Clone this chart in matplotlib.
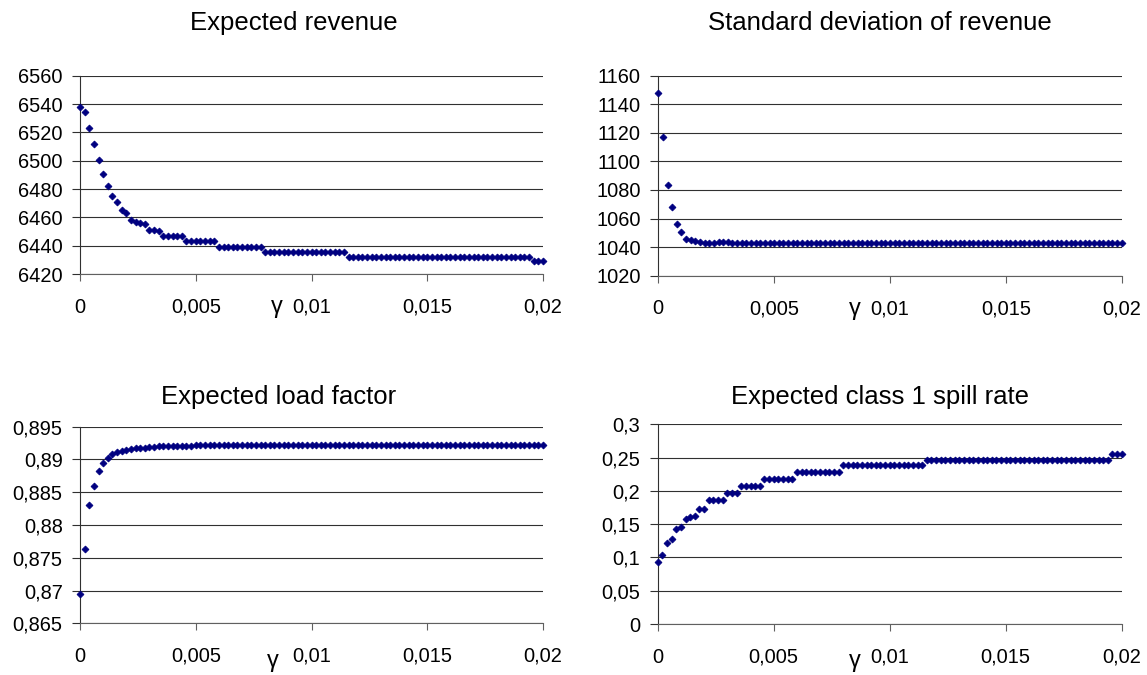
import matplotlib.pyplot as plt
from matplotlib.ticker import FuncFormatter

plt.rcParams['font.family'] = ['Liberation Sans', 'DejaVu Sans']

# gamma grid (x values of every point)
gamma = [0.0000, 0.0002, 0.0004, 0.0006, 0.0008, 0.0010, 0.0012, 0.0014, 0.0016, 0.0018,
         0.0020, 0.0022, 0.0024, 0.0026, 0.0028, 0.0030, 0.0032, 0.0034, 0.0036, 0.0038,
         0.0040, 0.0042, 0.0044, 0.0046, 0.0048, 0.0050, 0.0052, 0.0054, 0.0056, 0.0058,
         0.0060, 0.0062, 0.0064, 0.0066, 0.0068, 0.0070, 0.0072, 0.0074, 0.0076, 0.0078,
         0.0080, 0.0082, 0.0084, 0.0086, 0.0088, 0.0090, 0.0092, 0.0094, 0.0096, 0.0098,
         0.0100, 0.0102, 0.0104, 0.0106, 0.0108, 0.0110, 0.0112, 0.0114, 0.0116, 0.0118,
         0.0120, 0.0122, 0.0124, 0.0126, 0.0128, 0.0130, 0.0132, 0.0134, 0.0136, 0.0138,
         0.0140, 0.0142, 0.0144, 0.0146, 0.0148, 0.0150, 0.0152, 0.0154, 0.0156, 0.0158,
         0.0160, 0.0162, 0.0164, 0.0166, 0.0168, 0.0170, 0.0172, 0.0174, 0.0176, 0.0178,
         0.0180, 0.0182, 0.0184, 0.0186, 0.0188, 0.0190, 0.0192, 0.0194, 0.0196, 0.0198,
         0.0200]

revenue = ([6537.6, 6534.6, 6522.8, 6512.0, 6500.2, 6490.4, 6482.0, 6475.0, 6471.0, 6465.0,
            6463.0, 6458.0, 6457.0, 6456.0, 6455.0, 6451.0, 6451.0, 6450.5]
           + [6447.0] * 5 + [6443.2] * 7 + [6439.3] * 10 + [6435.7] * 18
           + [6432.2] * 40 + [6429.5] * 3)

std_rev = ([1148.1, 1116.9, 1083.5, 1068.3, 1056.0, 1050.3, 1045.7, 1044.7, 1044.3, 1043.3,
            1043.0, 1043.0, 1043.2, 1043.4, 1043.6, 1043.4, 1043.2, 1043.0, 1043.0, 1043.0]
           + [1043.0] * 81)

load_factor = ([0.8695, 0.8763, 0.8830, 0.8859, 0.8882, 0.8895, 0.8903, 0.8908, 0.8911, 0.8913,
                0.8915, 0.8916, 0.8917, 0.8918, 0.8918, 0.8919, 0.8919, 0.8920, 0.8920, 0.8921,
                0.8921, 0.8921, 0.8921, 0.8921, 0.8921]
               + [0.8922] * 76)

spill = ([0.0936, 0.1032, 0.1222, 0.1277, 0.1422, 0.1452, 0.1575, 0.1610, 0.1625, 0.1725,
          0.1735]
         + [0.1860] * 4 + [0.1973] * 3 + [0.2078] * 5 + [0.2182] * 7 + [0.2287] * 10
         + [0.2387] * 18 + [0.2465] * 40 + [0.2560] * 3)

titles = ['Expected revenue', 'Standard deviation of revenue',
          'Expected load factor', 'Expected class 1 spill rate']
xticks = [0, 0.005, 0.01, 0.015, 0.02]
yticks_rev = [6420, 6440, 6460, 6480, 6500, 6520, 6540, 6560]
yticks_std = [1020, 1040, 1060, 1080, 1100, 1120, 1140, 1160]
yticks_lf = [0.865, 0.87, 0.875, 0.88, 0.885, 0.89, 0.895]
yticks_sp = [0, 0.05, 0.1, 0.15, 0.2, 0.25, 0.3]

fig = plt.figure(figsize=(11.47, 6.75), dpi=100)
W, H = 1147.0, 675.0

# axes box in pixels (left, top, right, bottom), title centre x / baseline y, gamma x / baseline y
panels = [
    ((80, 75.7, 543, 274), (294, 30), (277, 313), revenue, yticks_rev),
    ((658.3, 75.7, 1121.7, 275.7), (880, 30), (855, 315), std_rev, yticks_std),
    ((80, 426.7, 543, 623.3), (279, 404), (273, 667), load_factor, yticks_lf),
    ((657.7, 424.3, 1121.7, 624), (880, 404), (855, 667), spill, yticks_sp),
]

comma = FuncFormatter(lambda v, p: ('%g' % v).replace('.', ','))

for k, (box, tpos, gpos, vals, yt) in enumerate(panels):
    l, t, r, b = box
    ax = fig.add_axes([l / W, 1 - b / H, (r - l) / W, (b - t) / H])
    ax.plot(gamma, vals, linestyle='none', marker='D', markersize=3.5,
            color='#000080', markeredgewidth=0.6, clip_on=False, zorder=5)
    ax.set_xlim(0, 0.02)
    ax.set_ylim(yt[0], yt[-1])
    ax.set_xticks(xticks)
    ax.set_yticks(yt)
    ax.xaxis.set_major_formatter(comma)
    ax.yaxis.set_major_formatter(comma)
    ax.grid(axis='y', color='#303030', linewidth=0.8)
    ax.set_axisbelow(True)
    for s in ['top', 'right']:
        ax.spines[s].set_visible(False)
    ax.spines['left'].set_color('#303030')
    ax.spines['bottom'].set_color('#606060')
    ax.tick_params(axis='y', direction='out', length=6, width=0.8, pad=6.5,
                   labelsize=14.4, colors='#303030', labelcolor='black')
    ax.tick_params(axis='x', direction='out', length=5, width=0.8, pad=12,
                   labelsize=14.4, colors='#606060', labelcolor='black')
    fig.text(gpos[0] / W, 1 - gpos[1] / H, '\u03b3', ha='center', va='baseline', fontsize=17)
    fig.text(tpos[0] / W, 1 - tpos[1] / H, titles[k], ha='center', va='baseline', fontsize=18.5)

fig.savefig('out.png', dpi=100)
